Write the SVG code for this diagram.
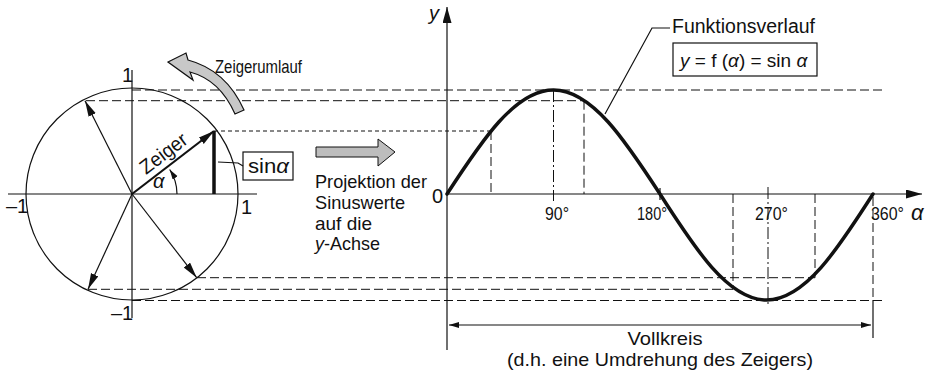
<svg xmlns="http://www.w3.org/2000/svg" width="927" height="379" viewBox="0 0 927 379">
<style>
text{font-family:"Liberation Sans","DejaVu Sans",sans-serif;font-size:20px;fill:#111}
.it{font-style:italic}
.ln{stroke:#111;fill:none;stroke-width:1.2}
.dash{stroke:#111;fill:none;stroke-width:1;stroke-dasharray:9 4}
.sdash{stroke:#111;fill:none;stroke-width:1;stroke-dasharray:4 3}
.dd{stroke:#111;fill:none;stroke-width:1;stroke-dasharray:12 3 2 3}
.deg{font-size:18px}
.pr{font-size:18.5px}
.vk{font-size:19px}
</style>
<defs>
<marker id="ah" markerUnits="userSpaceOnUse" markerWidth="18" markerHeight="10" refX="16" refY="4" orient="auto"><path d="M0,0 L16,4 L0,8 Z" fill="#111"/></marker>
<marker id="ahs" markerUnits="userSpaceOnUse" markerWidth="12" markerHeight="8" refX="10" refY="3" orient="auto"><path d="M0,0 L10,3 L0,6 Z" fill="#111"/></marker>
<marker id="ax" markerUnits="userSpaceOnUse" markerWidth="18" markerHeight="10" refX="16" refY="4.5" orient="auto"><path d="M0,0 L16,4.5 L0,9 Z" fill="#111"/></marker>
</defs>

<g id="connectors">
<path class="dash" d="M132,90 H885"/>
<path class="dash" d="M86,100.7 H584"/>
<path class="sdash" d="M214,131 H491"/>
<path class="dash" d="M197,277.7 H815"/>
<path class="dash" d="M88,289.3 H733"/>
<path class="dash" d="M132,300.5 H884"/>
<path class="dash" d="M491,131 V194"/>
<path class="dd" d="M553.5,90 V201"/>
<path class="dash" d="M584,100.7 V194"/>
<path class="ln" d="M660,188 V200"/>
<path class="dash" d="M733,194 V289.3"/>
<path class="dd" d="M768,187 V304"/>
<path class="dash" d="M815,194 V277.7"/>
<path class="dash" d="M873,197 V300"/>
<path class="ln" d="M873,300 V338"/>
<path class="ln" d="M660,325 H449" marker-end="url(#ahs)"/>
<path class="ln" d="M660,325 H871" marker-end="url(#ahs)"/>
<path class="ln" d="M605,114 L652,28 H670"/>
<path class="ln" d="M218,162 L238,163 L243,166"/>
</g>

<g id="circle">
<circle cx="132" cy="194" r="106" class="ln"/>
<path class="ln" d="M8,194 H257"/>
<path class="ln" d="M132,70 V318"/>
<path class="ln" d="M132,194 L85,100.7" marker-end="url(#ah)"/>
<path class="ln" d="M132,194 L88,289.3" marker-end="url(#ah)"/>
<path class="ln" d="M132,194 L196.7,277.7" marker-end="url(#ah)"/>
<path stroke="#111" stroke-width="2.2" fill="none" d="M132,194 L214,131" marker-end="url(#ah)"/>
<path stroke="#111" stroke-width="3.5" d="M214,131 V194"/>
<path class="ln" d="M177,194 A45,45 0 0 0 169.7,169.5" marker-end="url(#ahs)"/>
<text x="122" y="82">1</text>
<text x="6" y="213">–1</text>
<text x="241" y="214">1</text>
<text x="111" y="320">–1</text>
<text class="it" x="153" y="188">α</text>
<text transform="translate(146,175) rotate(-37)" textLength="54" lengthAdjust="spacingAndGlyphs">Zeiger</text>
</g>

<g id="sinbox">
<rect x="243" y="152" width="50" height="28" class="ln"/>
<text x="248" y="173" textLength="41" lengthAdjust="spacingAndGlyphs">sin<tspan class="it">α</tspan></text>
</g>

<g id="umlauf">
<path d="M168,62 L186,53 L188,60 Q226,70 244,110 L235,114 Q220,80 190,72 L193,80 Z" fill="#c8c8c8" stroke="#111" stroke-width="1.2"/>
<text x="215" y="73" style="font-size:19px" textLength="87" lengthAdjust="spacingAndGlyphs">Zeigerumlauf</text>
</g>

<g id="projektion">
<path d="M316,147 L378,147 L378,139 L395,152 L378,166 L378,157 L316,157 Z" fill="#bdbdbd" stroke="#111" stroke-width="1"/>
<text class="pr" x="315" y="188" textLength="112" lengthAdjust="spacingAndGlyphs">Projektion der</text>
<text class="pr" x="315" y="209" textLength="90" lengthAdjust="spacingAndGlyphs">Sinuswerte</text>
<text class="pr" x="315" y="230" textLength="57" lengthAdjust="spacingAndGlyphs">auf die</text>
<text class="pr" x="315" y="250" textLength="65" lengthAdjust="spacingAndGlyphs"><tspan class="it">y</tspan>-Achse</text>
</g>

<g id="axes">
<path class="ln" d="M447,350 V7" marker-end="url(#ax)"/>
<path class="ln" d="M447,194 H922" marker-end="url(#ax)"/>
<text class="it" x="429" y="20">y</text>
<text x="432" y="203">0</text>
<text class="deg" x="545" y="220" textLength="24" lengthAdjust="spacingAndGlyphs">90°</text>
<text class="deg" x="637" y="220" textLength="30" lengthAdjust="spacingAndGlyphs">180°</text>
<text class="deg" x="755" y="220" textLength="33" lengthAdjust="spacingAndGlyphs">270°</text>
<text class="deg" x="871" y="220" textLength="33" lengthAdjust="spacingAndGlyphs">360°</text>
<text class="it" x="911" y="220" style="font-size:22px">α</text>
</g>

<g id="sinecurve">
<path stroke="#111" stroke-width="3.5" fill="none" stroke-linecap="round" d="M447,194 C481.7,140.7 515,90 553.5,90 C592,90 625.3,140.7 660,194 C694.7,248.3 728,300 766.5,300 C805,300 838.3,248.3 873,194"/>
</g>

<g id="funktion">
<text x="672" y="33" textLength="143" lengthAdjust="spacingAndGlyphs">Funktionsverlauf</text>
<rect x="673" y="43" width="144" height="33" class="ln"/>
<text x="680" y="67" style="font-size:19px"><tspan class="it">y</tspan> = f (<tspan class="it">α</tspan>) = sin <tspan class="it">α</tspan></text>
</g>

<g id="vollkreis">
<text class="vk" x="665" y="345" text-anchor="middle" textLength="75" lengthAdjust="spacingAndGlyphs">Vollkreis</text>
<text class="vk" x="660" y="366" text-anchor="middle" textLength="306" lengthAdjust="spacingAndGlyphs">(d.h. eine Umdrehung des Zeigers)</text>
</g>
</svg>
